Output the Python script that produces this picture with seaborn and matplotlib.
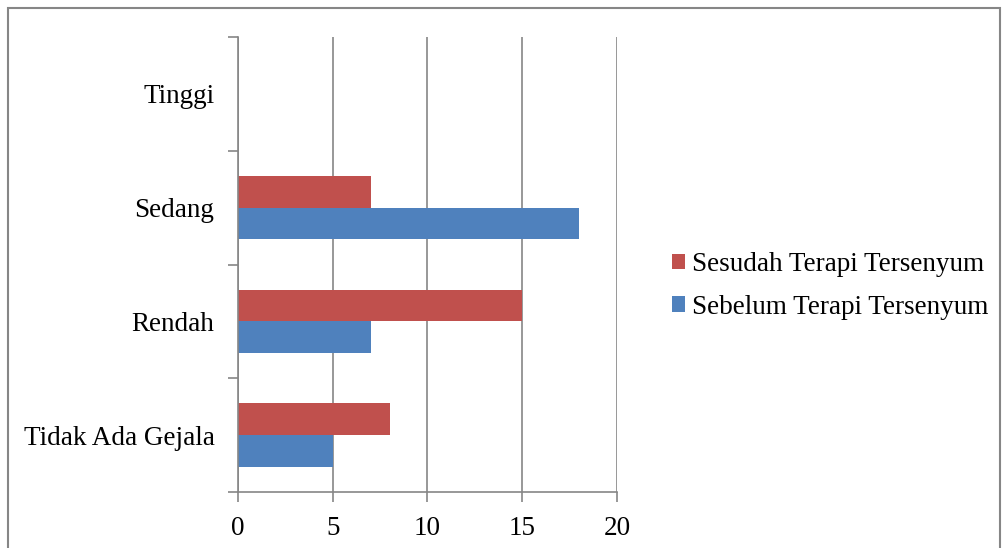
import matplotlib
matplotlib.use("Agg")
import matplotlib.pyplot as plt
import seaborn as sns
import pandas as pd
from matplotlib.patches import Rectangle

categories = ["Tinggi", "Sedang", "Rendah", "Tidak Ada Gejala"]
sesudah = [0, 7, 15, 8]
sebelum = [0, 18, 7, 5]
series_names = ["Sesudah Terapi Tersenyum", "Sebelum Terapi Tersenyum"]
x_ticks = [0, 5, 10, 15, 20]

df = pd.DataFrame({
    "kategori": categories * 2,
    "nilai": sesudah + sebelum,
    "seri": [series_names[0]] * len(categories) + [series_names[1]] * len(categories),
})

sns.set_style("white")
plt.rcParams["font.family"] = ["Liberation Serif", "DejaVu Serif"]
plt.rcParams["text.color"] = "black"
plt.rcParams["xtick.color"] = "black"
plt.rcParams["ytick.color"] = "black"

fig = plt.figure(figsize=(10.03, 5.48), dpi=100)
ax = fig.add_axes([238 / 1003, 1 - 492 / 548, (617 - 238) / 1003, (492 - 37) / 548])

sns.barplot(data=df, y="kategori", x="nilai", hue="seri", order=categories,
            hue_order=series_names, palette=["#C0504D", "#4F81BD"],
            orient="h", width=0.56, gap=0, saturation=1, ax=ax, legend=True,
            linewidth=0)

grey = "#868686"
ax.set_xlim(0, 20)
ax.set_ylim(3.5, -0.5)
ax.set_xticks(x_ticks)
ax.set_xticklabels([str(t) for t in x_ticks], fontsize=19.5)
ax.set_yticks(range(len(categories)))
ax.set_yticklabels(categories, fontsize=19.5)
ax.set_yticks([-0.5, 0.5, 1.5, 2.5, 3.5], minor=True)
ax.tick_params(axis="y", which="major", left=True, length=0, pad=17)
ax.tick_params(axis="y", which="minor", left=True, length=7, width=1.2, color=grey, direction="out")
ax.tick_params(axis="x", which="major", bottom=True, length=7, width=1.2, color=grey,
               direction="out", pad=10)
ax.set_xlabel("")
ax.set_ylabel("")
ax.xaxis.grid(True, color=grey, linewidth=1.2)
ax.yaxis.grid(False)
ax.set_axisbelow(True)
for s in ["top", "right"]:
    ax.spines[s].set_visible(False)
for s in ["left", "bottom"]:
    ax.spines[s].set_color(grey)
    ax.spines[s].set_linewidth(1.2)

handles, labels = ax.get_legend_handles_labels()
ax.legend_.remove()
fig.legend(handles, labels, loc="center left", bbox_to_anchor=(658 / 1003, 1 - 286 / 548),
           frameon=False, fontsize=19.5, handlelength=0.5, handleheight=0.5,
           handletextpad=0.25, labelspacing=0.65, borderpad=0)

fig.patches.append(Rectangle((8 / 1003, -0.1), 992 / 1003, 1.1 - 8 / 548,
                             transform=fig.transFigure, fill=False,
                             edgecolor=grey, linewidth=1.5, clip_on=False))

fig.savefig("out.png", dpi=100)
